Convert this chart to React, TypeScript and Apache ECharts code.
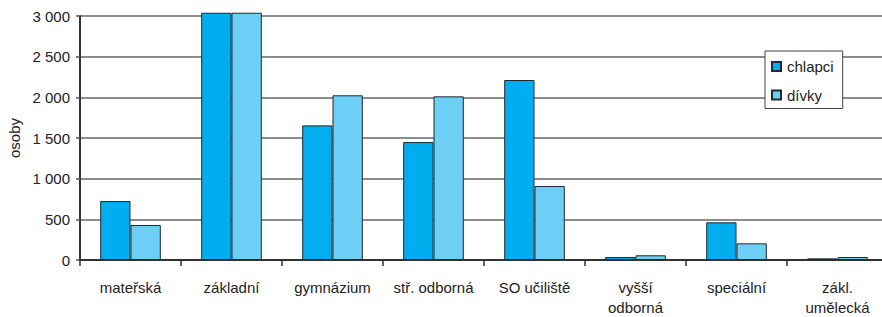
import React, { useEffect, useRef } from "react";
import * as echarts from "echarts";

const categories = [
  "mateřská",
  "základní",
  "gymnázium",
  "stř. odborná",
  "SO učiliště",
  "vyšší\nodborná",
  "speciální",
  "zákl.\numělecká",
];
const chlapci = [725, 3040, 1655, 1450, 2213, 37, 463, 20];
const divky = [430, 3040, 2025, 2012, 910, 58, 205, 37];
const yTicks = ["0", "500", "1 000", "1 500", "2 000", "2 500", "3 000"];

const FONT = "'Liberation Sans', Arial, sans-serif";

export default function App() {
  const ref = useRef<HTMLDivElement>(null);
  useEffect(() => {
    document.body.style.margin = "0";
    document.body.style.overflow = "hidden";
    if (!ref.current) return;
    const chart = echarts.init(ref.current, null, { renderer: "svg" });
    chart.setOption({
      animation: false,
      backgroundColor: "#ffffff",
      textStyle: { fontFamily: FONT },
      grid: { left: 80, top: 16, right: 0, bottom: 57, containLabel: false, outerBoundsMode: "none" },
      legend: {
        orient: "vertical",
        left: 765,
        top: 51,
        padding: [8, 9, 6, 6],
        itemWidth: 9,
        itemHeight: 9,
        itemGap: 13.5,
        icon: "rect",
        backgroundColor: "#ffffff",
        borderColor: "#444444",
        borderWidth: 1,
        textStyle: { fontSize: 15, color: "#222222", fontFamily: FONT, lineHeight: 15, padding: [0, 0, 0, 1] },
        data: ["chlapci", "dívky"],
      },
      xAxis: {
        type: "category",
        data: categories,
        axisLine: { lineStyle: { color: "#333333", width: 2 } },
        axisTick: { show: true, length: 6, lineStyle: { color: "#333333", width: 1.5 } },
        axisLabel: {
          fontSize: 15,
          color: "#222222",
          fontFamily: FONT,
          margin: 17,
          lineHeight: 20,
          interval: 0,
        },
      },
      yAxis: {
        type: "value",
        min: 0,
        max: 3000,
        interval: 500,
        name: "osoby",
        nameLocation: "middle",
        nameRotate: 90,
        nameGap: 57,
        nameTextStyle: { fontSize: 15, color: "#222222", fontFamily: FONT },
        axisLine: { show: true, lineStyle: { color: "#333333", width: 2 } },
        axisTick: { show: true, length: 4, lineStyle: { color: "#555555", width: 1.5 } },
        splitLine: { show: true, lineStyle: { color: "#666666", width: 1.5 } },
        axisLabel: {
          fontSize: 15,
          color: "#222222",
          fontFamily: FONT,
          margin: 10,
          formatter: (v: number) => yTicks[Math.round(v / 500)] ?? String(v),
        },
      },
      series: [
        {
          name: "chlapci",
          type: "bar",
          data: chlapci,
          barGap: "0%",
          barCategoryGap: "40%",
          clip: false,
          itemStyle: { color: "#00AEEF", borderColor: "#1e2a30", borderWidth: 1 },
        },
        {
          name: "dívky",
          type: "bar",
          data: divky,
          barGap: "0%",
          barCategoryGap: "40%",
          clip: false,
          itemStyle: { color: "#6DCFF6", borderColor: "#1e2a30", borderWidth: 1 },
        },
      ],
    });
    return () => chart.dispose();
  }, []);
  return (
    <div style={{ position: "fixed", left: 0, top: 0, width: 882, height: 317, overflow: "hidden", background: "#fff" }}>
      <div ref={ref} style={{ width: 888, height: 317 }} />
    </div>
  );
}
